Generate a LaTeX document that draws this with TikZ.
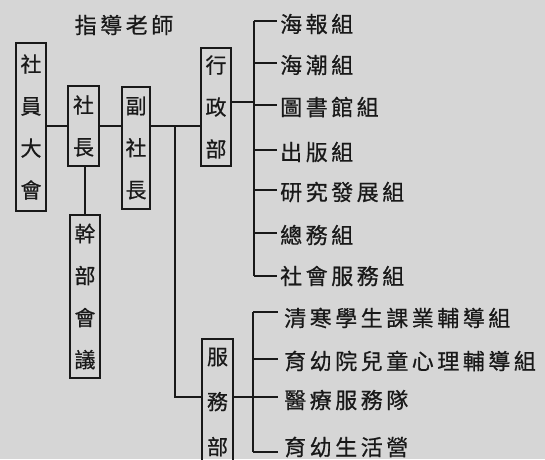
\documentclass[tikz,border=0pt]{standalone}
\usepackage{fontspec}
\newfontfamily\cjk[LetterSpace=16,FakeBold=0.6]{Noto Sans CJK TC}
\newfontfamily\cjkbox[FakeBold=0.6]{Noto Sans CJK TC}
\definecolor{paper}{RGB}{214,214,214}
\definecolor{ink}{RGB}{25,25,25}
\tikzset{
  orgbox/.style={draw=ink, line width=2pt, inner sep=0pt, align=center,
    font=\cjkbox\fontsize{21}{42}\selectfont, text=ink},
  leaf/.style={anchor=west, inner sep=0pt, font=\cjk\fontsize{22}{25}\selectfont, text=ink},
  wire/.style={draw=ink, line width=2pt}
}
\begin{document}
\begin{tikzpicture}[x=1pt,y=-1pt]
\fill[paper] (0,0) rectangle (545,459);
\useasboundingbox (0,0) rectangle (545,459);
\clip (0,0) rectangle (545,459);
% title
\node[leaf, anchor=center] (teacher) at (124,25) {指導老師};
% boxes
\node[orgbox, minimum width=30pt, minimum height=168pt] (gen) at (31,127) {社\\員\\大\\會};
\node[orgbox, minimum width=31pt, minimum height=80pt] (pres) at (83.5,126) {社\\長};
\node[orgbox, minimum width=28pt, minimum height=122pt] (vp) at (136,148) {副\\社\\長};
\node[orgbox, minimum width=30pt, minimum height=118pt] (admin) at (216,107) {行\\政\\部};
\node[orgbox, minimum width=30pt, minimum height=163pt] (cadre) at (85,296.5) {幹\\部\\會\\議};
\node[orgbox, minimum width=31pt, minimum height=126pt, font=\cjkbox\fontsize{21}{45}\selectfont] (serv) at (217.5,402) {服\\務\\部};
% main line
\coordinate (j1) at (175,126);
\coordinate (j2) at (175,397);
\draw[wire] (gen.east |- j1) -- (pres.west |- j1);
\draw[wire] (pres.east |- j1) -- (vp.west |- j1);
\draw[wire] (vp.east |- j1) -- (admin.west |- j1);
\draw[wire] (j1) -- (j2) -- (serv.west |- j2);
\draw[wire] (pres.south -| cadre.north) -- (cadre.north);
% admin tree
\coordinate (at) at (254,21);
\coordinate (ab) at (254,276);
\coordinate (am) at (254,102);
\draw[wire] (admin.east |- am) -- (am);
\draw[wire] (at) -- (ab);
\foreach \y/\ty/\n/\t in {21/24/a1/海報組, 63/65/a2/海潮組, 105/107/a3/圖書館組, 150/152/a4/出版組, 190/192/a5/研究發展組, 233/235/a6/總務組, 276/276/a7/社會服務組}{
  \node[leaf] (\n) at (280,\ty) {\t};
  \draw[wire] (254,\y) -- (277,\y);
}
% service tree
\coordinate (st) at (253,312);
\coordinate (sb) at (253,452);
\coordinate (sm) at (253,397);
\draw[wire] (serv.east |- sm) -- (sm);
\draw[wire] (st) -- (sb);
\foreach \y/\ty/\n/\t in {312/318/s1/清寒學生課業輔導組, 359/361/s2/育幼院兒童心理輔導組, 397/400/s3/醫療服務隊, 452/447/s4/育幼生活營}{
  \node[leaf] (\n) at (284,\ty) {\t};
  \draw[wire] (253,\y) -- (278,\y);
}
\end{tikzpicture}
\end{document}
